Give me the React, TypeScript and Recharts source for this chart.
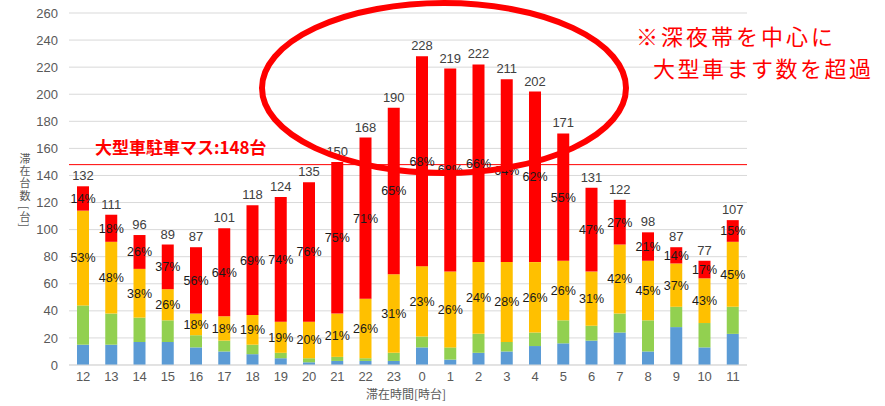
import React from 'react';
import {
  BarChart,
  Bar,
  XAxis,
  YAxis,
  CartesianGrid,
  ReferenceLine,
  LabelList,
} from 'recharts';

const hours = ['12', '13', '14', '15', '16', '17', '18', '19', '20', '21', '22', '23',
  '0', '1', '2', '3', '4', '5', '6', '7', '8', '9', '10', '11'];
const totals = [132, 111, 96, 89, 87, 101, 118, 124, 135, 150, 168, 190,
  228, 219, 222, 211, 202, 171, 131, 122, 98, 87, 77, 107];
const blueVals = [15, 15, 17, 17, 13, 10, 8, 5, 2, 3, 3, 3,
  13, 4, 9, 10, 14, 16, 18, 24, 10, 28, 13, 23];
const greenVals = [29, 23, 18, 16, 9, 8, 7, 4, 3, 3, 2, 6,
  8, 9, 14, 7, 10, 17, 11, 14, 23, 15, 18, 20];
const yellowVals = [70, 53, 36, 23, 16, 18, 22, 23, 27, 32, 44, 58,
  52, 56, 53, 59, 52, 44, 40, 51, 44, 32, 33, 48];
const redVals = [18, 20, 25, 33, 49, 65, 81, 92, 103, 112, 119, 123,
  155, 150, 146, 135, 126, 94, 62, 33, 21, 12, 13, 16];
const yellowPct = ['53%', '48%', '38%', '26%', '18%', '18%', '19%', '19%', '20%', '21%', '26%', '31%',
  '23%', '26%', '24%', '28%', '26%', '26%', '31%', '42%', '45%', '37%', '43%', '45%'];
const redPct = ['14%', '18%', '26%', '37%', '56%', '64%', '69%', '74%', '76%', '75%', '71%', '65%',
  '68%', '68%', '66%', '64%', '62%', '55%', '47%', '27%', '21%', '14%', '17%', '15%'];
const yTicks = [0, 20, 40, 60, 80, 100, 120, 140, 160, 180, 200, 220, 240, 260];
const parkingSpaces = 148;

const data = hours.map((h, i) => ({
  hour: h,
  blue: blueVals[i],
  green: greenVals[i],
  yellow: yellowVals[i],
  red: redVals[i],
  total: totals[i],
  yPct: yellowPct[i],
  rPct: redPct[i],
}));

const latin = '"Liberation Sans", Arial, sans-serif';
const jp = '"Noto Sans CJK JP", "Noto Sans", sans-serif';

export default function App() {
  return (
    <div style={{ position: 'absolute', left: 0, top: 0, width: 885, height: 406, background: '#fff' }}>
      <BarChart
        width={885}
        height={406}
        data={data}
        margin={{ top: 13, right: 138, bottom: 11, left: 9 }}
        barSize={12}
      >
        <CartesianGrid vertical={false} stroke="#d9d9d9" />
        <XAxis
          dataKey="hour"
          height={30}
          tickLine={false}
          axisLine={{ stroke: '#d9d9d9' }}
          tickMargin={1}
          tick={{ fontSize: 13, fill: '#595959', fontFamily: latin }}
          interval={0}
        />
        <YAxis
          width={60}
          domain={[0, 260]}
          ticks={yTicks}
          axisLine={false}
          tickLine={false}
          tickMargin={5}
          tick={{ fontSize: 13, fill: '#595959', fontFamily: latin }}
        />
        <Bar dataKey="blue" stackId="a" fill="#5b9bd5" isAnimationActive={false} />
        <Bar dataKey="green" stackId="a" fill="#92d050" isAnimationActive={false} />
        <Bar dataKey="yellow" stackId="a" fill="#ffc000" isAnimationActive={false}>
          <LabelList dataKey="yPct" position="center" fontSize={12.5} fill="#1a1a1a" fontFamily={latin} />
        </Bar>
        <Bar dataKey="red" stackId="a" fill="#ff0000" isAnimationActive={false}>
          <LabelList dataKey="rPct" position="center" fontSize={12.5} fill="#1a1a1a" fontFamily={latin} />
          <LabelList dataKey="total" position="top" offset={6} fontSize={13} fill="#404040" fontFamily={latin} />
        </Bar>
        <ReferenceLine
          y={parkingSpaces}
          stroke="#ff0000"
          strokeWidth={1}
          label={(props: any) => (
            <text
              x={props.viewBox.x + 26}
              y={props.viewBox.y - 15}
              fill="#ff0000"
              fontSize={17}
              fontWeight="bold"
              fontFamily={jp}
              dominantBaseline="middle"
            >
              大型車駐車マス:148台
            </text>
          )}
        />
      </BarChart>

      {/* annotations drawn over the chart */}
      <svg
        width={885}
        height={406}
        style={{ position: 'absolute', left: 0, top: 0, pointerEvents: 'none' }}
      >
        <ellipse cx={444} cy={88} rx={182} ry={85} fill="none" stroke="#ff0000" strokeWidth={6} />
        <text x={636} y={39} fill="#ff0000" fontSize={22} letterSpacing={3} fontFamily={jp} dominantBaseline="middle">
          ※深夜帯を中心に
        </text>
        <text x={653} y={71} fill="#ff0000" fontSize={22} letterSpacing={2.5} fontFamily={jp} dominantBaseline="middle">
          大型車ます数を超過
        </text>
        <text
          x={25}
          y={153}
          fill="#595959"
          fontSize={11}
          fontFamily={jp}
          letterSpacing={1.3}
          style={{ writingMode: 'vertical-rl' } as any}
        >
          滞在台数 [台]
        </text>
        <text x={406} y={396} fill="#595959" fontSize={12} fontFamily={jp} textAnchor="middle" dominantBaseline="middle">
          滞在時間[時台]
        </text>
      </svg>
    </div>
  );
}
